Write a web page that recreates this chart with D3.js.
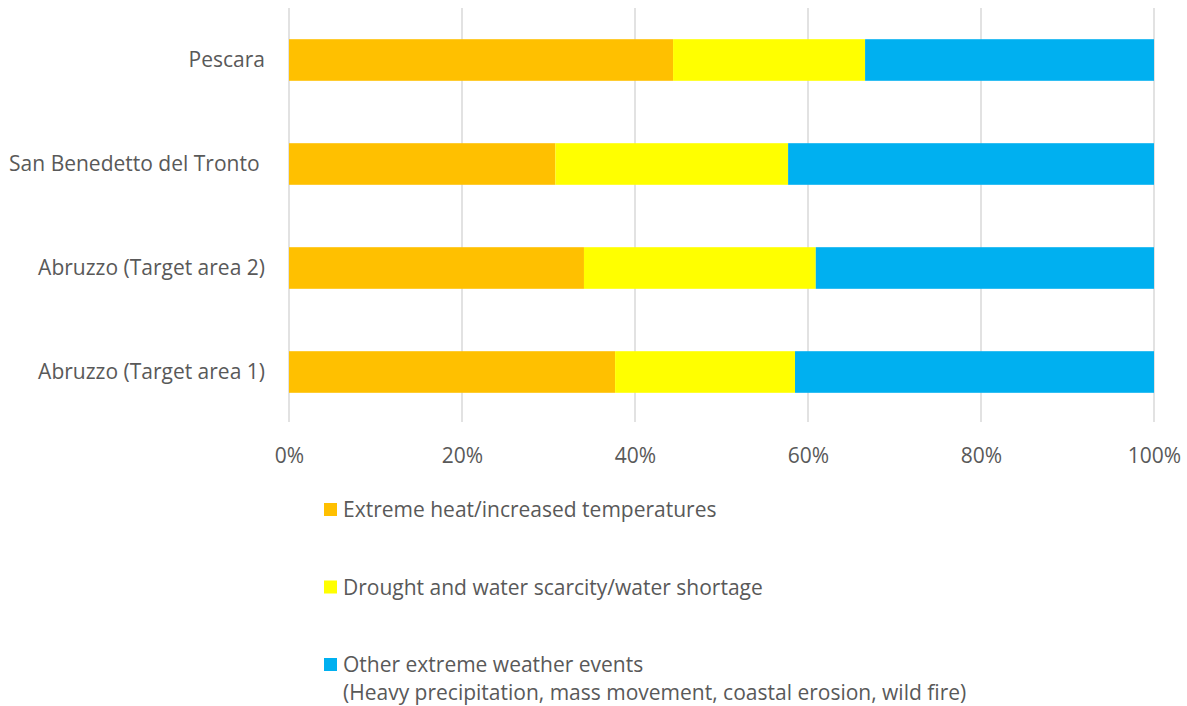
<!DOCTYPE html>
<html>
<head>
<meta charset="utf-8">
<script src="https://cdn.jsdelivr.net/npm/d3@7"></script>
<style>
  html, body { margin: 0; padding: 0; background: #fff; }
  svg text { font-family: "Open Sans", Lato, sans-serif; fill: #595959; white-space: pre; }
</style>
</head>
<body>
<svg id="chart" width="1187" height="706"></svg>
<script>
// Share of reported climate hazards per area (percent of total)
const areas = ["Pescara", "San Benedetto del Tronto ", "Abruzzo (Target area 2)", "Abruzzo (Target area 1)"];
const heat = [44.4, 30.8, 34.1, 37.7];
const drought = [22.2, 26.9, 26.8, 20.8];
const otherEvents = [33.4, 42.3, 39.1, 41.5];
const seriesNames = [
  ["Extreme heat/increased temperatures"],
  ["Drought and water scarcity/water shortage"],
  ["Other extreme weather events", "(Heavy precipitation, mass movement, coastal erosion, wild fire)"]
];
const seriesColors = ["#FFC000", "#FFFF00", "#00B0F0"];
const tickValues = [0, 20, 40, 60, 80, 100];

const rows = areas.map((a, i) => ({ area: a, heat: heat[i], drought: drought[i], other: otherEvents[i] }));
const keys = ["heat", "drought", "other"];
const stack = d3.stack().keys(keys).offset(d3.stackOffsetExpand)(rows);

const svg = d3.select("#chart");
const margin = { left: 289, right: 33, top: 8, bottom: 282 };
const W = 1187, H = 706;
const fontSize = 21;

const x = d3.scaleLinear().domain([0, 1]).range([margin.left, W - margin.right]);
const y = d3.scaleBand().domain(areas).range([margin.top, H - margin.bottom]).paddingInner(0.6).paddingOuter(0.3);

// vertical gridlines
svg.append("g").selectAll("line").data(tickValues).join("line")
  .attr("x1", d => x(d / 100)).attr("x2", d => x(d / 100))
  .attr("y1", margin.top).attr("y2", H - margin.bottom - 2)
  .attr("stroke", "#d9d9d9").attr("stroke-width", 1.5);

// stacked bars
svg.append("g").selectAll("g").data(stack).join("g")
  .attr("fill", (d, i) => seriesColors[i])
  .selectAll("rect").data(d => d).join("rect")
  .attr("x", d => x(d[0]))
  .attr("width", d => x(d[1]) - x(d[0]))
  .attr("y", d => y(d.data.area))
  .attr("height", y.bandwidth());

// category labels
const yAxis = d3.axisLeft(y).tickSize(0).tickPadding(0);
const gy = svg.append("g").attr("transform", `translate(${margin.left - 24},0)`).call(yAxis);
gy.select(".domain").remove();
gy.selectAll("text").attr("font-size", fontSize).attr("font-family", null).attr("fill", null).attr("dy", "0.35em")
  .attr("x", 0);

// percentage axis labels
const xAxis = d3.axisBottom(x).tickValues(tickValues.map(v => v / 100)).tickFormat(d3.format(".0%")).tickSize(0).tickPadding(0);
const gx = svg.append("g").attr("transform", `translate(0,${H - margin.bottom + 32})`).call(xAxis);
gx.select(".domain").remove();
gx.selectAll("text").attr("font-size", fontSize).attr("font-family", null).attr("fill", null).attr("dy", "0.35em");

// legend
const legend = svg.append("g").attr("transform", "translate(324,503)");
const item = legend.selectAll("g").data(seriesNames).join("g")
  .attr("transform", (d, i) => `translate(0,${i * 77.5})`);
item.append("rect").attr("width", 13).attr("height", 13)
  .attr("fill", (d, i) => seriesColors[i]);
item.each(function (lines) {
  const t = d3.select(this).append("text").attr("x", 19).attr("y", 14).attr("font-size", fontSize);
  lines.forEach((ln, j) => t.append("tspan").attr("x", 19).attr("dy", j === 0 ? 0 : 28).text(ln));
});
</script>
</body>
</html>
